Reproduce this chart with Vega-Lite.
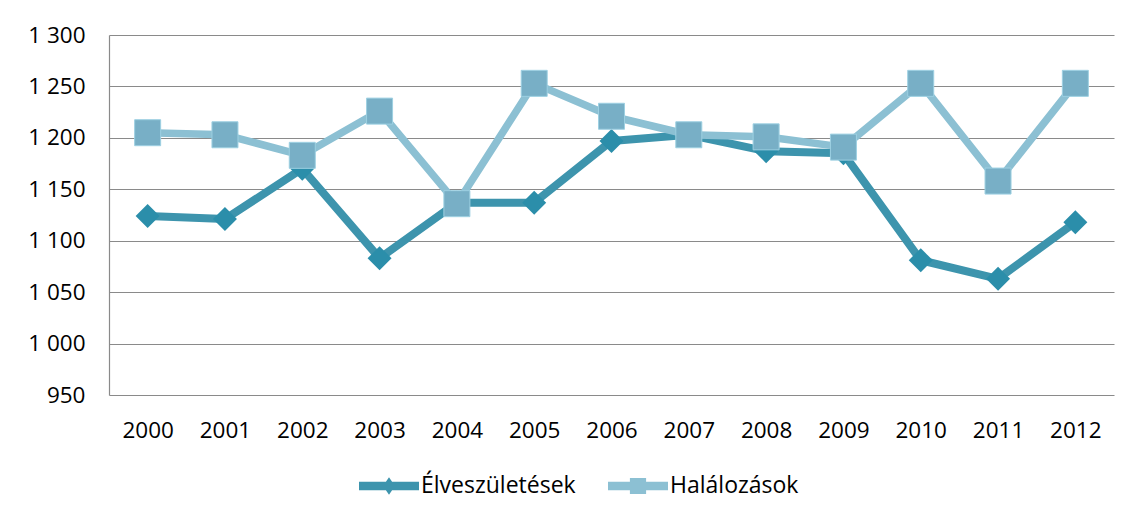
{
  "$schema": "https://vega.github.io/schema/vega-lite/v6.json",
  "width": 1005,
  "height": 360,
  "autosize": {"type": "none"},
  "padding": {"left": 109, "top": 35, "right": 20, "bottom": 126},
  "background": "white",
  "config": {
    "font": "Open Sans",
    "view": {"stroke": null},
    "axis": {"labelFont": "Open Sans", "labelFontSize": 22.5, "labelColor": "#000000"},
    "legend": {"labelFont": "Open Sans", "labelFontSize": 23, "labelColor": "#000000"}
  },
  "data": {
    "values": [
      {"year": "2000", "series": "Élveszületések", "value": 1124},
      {"year": "2001", "series": "Élveszületések", "value": 1121},
      {"year": "2002", "series": "Élveszületések", "value": 1170},
      {"year": "2003", "series": "Élveszületések", "value": 1083},
      {"year": "2004", "series": "Élveszületések", "value": 1137},
      {"year": "2005", "series": "Élveszületések", "value": 1137},
      {"year": "2006", "series": "Élveszületések", "value": 1197},
      {"year": "2007", "series": "Élveszületések", "value": 1203},
      {"year": "2008", "series": "Élveszületések", "value": 1187},
      {"year": "2009", "series": "Élveszületések", "value": 1185},
      {"year": "2010", "series": "Élveszületések", "value": 1081},
      {"year": "2011", "series": "Élveszületések", "value": 1063},
      {"year": "2012", "series": "Élveszületések", "value": 1118},
      {"year": "2000", "series": "Halálozások", "value": 1205},
      {"year": "2001", "series": "Halálozások", "value": 1203},
      {"year": "2002", "series": "Halálozások", "value": 1183},
      {"year": "2003", "series": "Halálozások", "value": 1226},
      {"year": "2004", "series": "Halálozások", "value": 1136},
      {"year": "2005", "series": "Halálozások", "value": 1253},
      {"year": "2006", "series": "Halálozások", "value": 1221},
      {"year": "2007", "series": "Halálozások", "value": 1203},
      {"year": "2008", "series": "Halálozások", "value": 1201},
      {"year": "2009", "series": "Halálozások", "value": 1191},
      {"year": "2010", "series": "Halálozások", "value": 1253},
      {"year": "2011", "series": "Halálozások", "value": 1158},
      {"year": "2012", "series": "Halálozások", "value": 1253}
    ]
  },
  "encoding": {
    "x": {
      "field": "year", "type": "ordinal",
      "scale": {"type": "point", "padding": 0.5},
      "axis": {"title": null, "labelAngle": 0, "domain": false, "ticks": false, "grid": false, "labelPadding": 24}
    },
    "y": {
      "field": "value", "type": "quantitative",
      "scale": {"domain": [950, 1300], "zero": false, "nice": false},
      "axis": {
        "title": null, "values": [950, 1000, 1050, 1100, 1150, 1200, 1250, 1300],
        "labelExpr": "replace(format(datum.value, ','), ',', ' ')",
        "domain": true, "domainColor": "#8a8a8a", "domainWidth": 1.2,
        "ticks": false, "grid": true, "gridColor": "#8a8a8a", "gridWidth": 1.2,
        "labelPadding": 24
      }
    },
    "color": {
      "field": "series", "type": "nominal",
      "scale": {"domain": ["Élveszületések", "Halálozások"], "range": ["#3d94ad", "#8cc0d3"]},
      "legend": {
        "title": null, "orient": "none", "direction": "horizontal",
        "legendX": 250, "legendY": 421, "padding": 0,
        "symbolSize": 3600, "symbolStrokeWidth": 0, "labelOffset": 2, "columnPadding": 32,
        "encode": {
          "symbols": {
            "update": {
              "shape": {"signal": "datum.index === 0 ? 'M-1,-0.14H1V0.14H-1Z M0,-0.29L0.2,0L0,0.29L-0.2,0Z' : 'M-1,-0.14H1V0.14H-1Z M-0.27,-0.27H0.27V0.27H-0.27Z'"},
              "fill": {"signal": "datum.index === 0 ? '#3a93ac' : '#88bdd1'"},
              "stroke": {"value": "transparent"},
              "opacity": {"value": 1},
              "fillOpacity": {"value": 1}
            }
          }
        }
      }
    }
  },
  "layer": [
    {
      "transform": [{"filter": "datum.series === 'Élveszületések'"}],
      "mark": {"type": "line", "strokeWidth": 8, "strokeJoin": "round", "strokeCap": "round"}
    },
    {
      "transform": [{"filter": "datum.series === 'Élveszületések'"}],
      "mark": {"type": "point", "shape": "diamond", "filled": true, "size": 576, "opacity": 1, "fill": "#2b8eaa"}
    },
    {
      "transform": [{"filter": "datum.series === 'Halálozások'"}],
      "mark": {"type": "line", "strokeWidth": 7.5, "strokeJoin": "round", "strokeCap": "round"}
    },
    {
      "transform": [{"filter": "datum.series === 'Halálozások'"}],
      "mark": {"type": "point", "shape": "square", "filled": true, "size": 676, "opacity": 1, "fill": "#78afc6", "stroke": "#9dd0e2", "strokeWidth": 1}
    }
  ]
}
